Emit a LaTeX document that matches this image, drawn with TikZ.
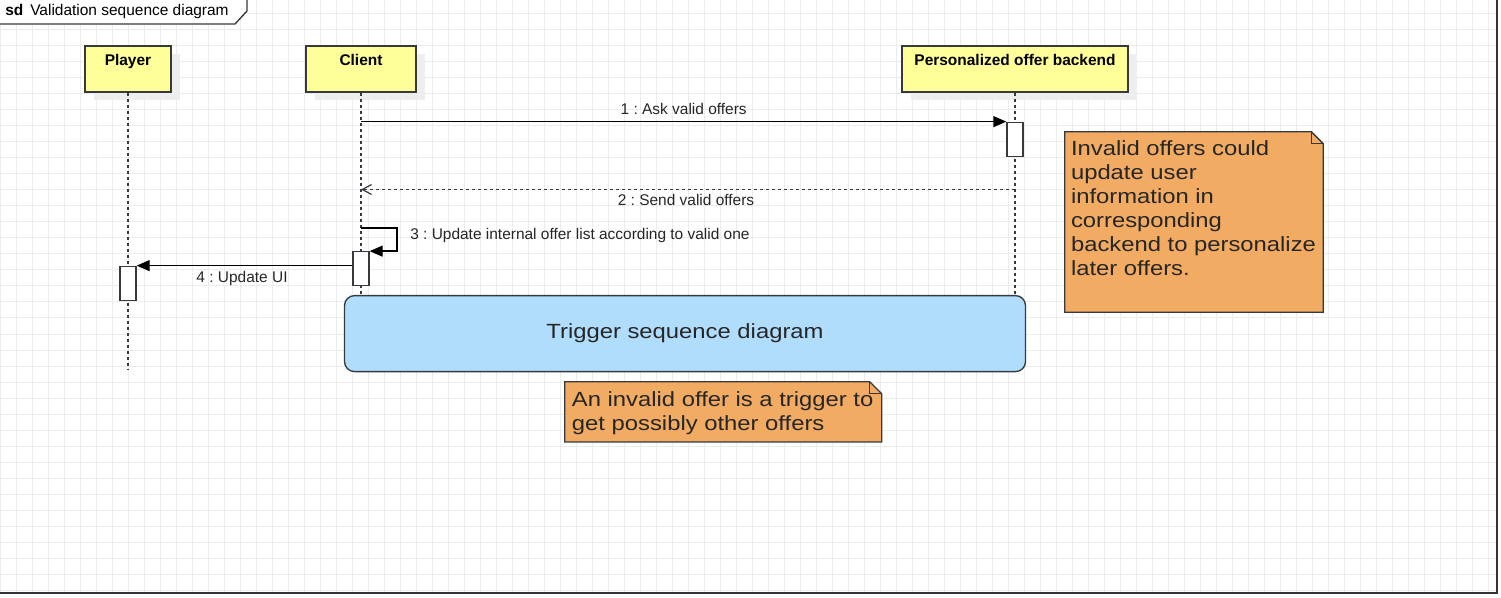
\documentclass[tikz,border=0pt]{standalone}
\usepackage{fontspec}
\setmainfont{Liberation Sans}
\newfontfamily\notefont[FakeStretch=1.16]{Liberation Sans}
\usepackage{xcolor}
\usepackage{tikz}
\usetikzlibrary{arrows.meta,shadows}
\definecolor{lifeyellow}{RGB}{255,255,153}
\definecolor{lineedge}{RGB}{54,57,61}
\definecolor{shadowgray}{RGB}{238,238,238}
\definecolor{gridgray}{RGB}{236,236,236}
\definecolor{noteorange}{RGB}{242,171,99}
\definecolor{triggerblue}{RGB}{177,221,252}
\definecolor{textgray}{RGB}{38,38,38}
\newdimen\pxu \pxu=0.75pt
\newcommand{\msgfont}{\fontsize{11.6pt}{13.9pt}\selectfont}
\newcommand{\bigfont}{\notefont\fontsize{15.4pt}{18pt}\selectfont}
\frenchspacing

\begin{document}
\begin{tikzpicture}[x=0.75pt,y=-0.75pt,
  gridline/.style={draw=gridgray,line width=0.75pt},
  frameline/.style={draw=lineedge!90!black,line width=1.5pt},
  lifebox/.style={draw=lineedge,fill=lifeyellow,line width=1pt,minimum height=46\pxu,inner sep=0pt,
    drop shadow={shadow xshift=8.5\pxu,shadow yshift=-8.5\pxu,fill=shadowgray,opacity=1}},
  lifetitle/.style={anchor=base,yshift=-20\pxu,inner sep=0pt,font=\msgfont\bfseries},
  lifeline/.style={draw=lineedge,line width=0.9pt,dash pattern=on 2.25pt off 2.25pt},
  actbox/.style={draw=lineedge,fill=white,line width=1pt,minimum width=16\pxu,minimum height=34\pxu,inner sep=0pt},
  msg/.style={draw=black,line width=1pt,-{Triangle[length=9.75pt,width=8.25pt]}},
  reply/.style={draw=lineedge,line width=0.9pt,dash pattern=on 2.25pt off 2.25pt,
    -{Straight Barb[length=7pt,width=7.5pt,line width=0.9pt]}},
  msglabel/.style={anchor=base,inner sep=0pt,font=\msgfont,text=textgray},
  trigger/.style={draw=lineedge,fill=triggerblue,line width=1pt,rounded corners=10\pxu,
    minimum width=681\pxu,minimum height=76\pxu,font=\bigfont,text=textgray},
  notearea/.style={inner sep=0pt},
  noteshape/.style={draw=lineedge,fill=noteorange,line width=1pt},
  notetext/.style={inner sep=0pt,align=left,font=\bigfont,text=textgray}]
\useasboundingbox (0,0) rectangle (1501,598);
% Background grid
\foreach \gx in {0,16,...,1488} \draw[gridline] (\gx,0) -- (\gx,593);
\foreach \gy in {14,30,...,590} \draw[gridline] (0,\gy) -- (1497,\gy);
% Frame and its label
\draw[frameline] (-5,-5) rectangle (1497,592.5);
\filldraw[draw=lineedge,fill=white,line width=1pt] (-5,24) -- (235,24) -- (247,11) -- (247,-5) -- (-5,-5) -- cycle;
\node[msglabel,anchor=base west,text=black] (sdlabel) at (5,16) {\textbf{sd}\hspace{7\pxu}Validation sequence diagram};
% Lifeline heads
\node[lifebox,minimum width=86\pxu,label={[lifetitle]north:Player}] (player) at (128,69) {};
\node[lifebox,minimum width=110\pxu,label={[lifetitle]north:Client}] (client) at (361,69) {};
\node[lifebox,minimum width=226\pxu,label={[lifetitle]north:Personalized offer backend}] (backend) at (1015,69) {};
% Trigger block
\node[trigger] (trigger) at (685,333.6) {Trigger sequence diagram};
% Lifelines
\coordinate (playerend) at (128,370);
\draw[lifeline] (player.south) -- (playerend);
\draw[lifeline] (client.south) -- (client.south |- trigger.north);
\draw[lifeline] (backend.south) -- (backend.south |- trigger.north);
% Activations
\node[actbox] (beact) at (1015,139.3) {};
\node[actbox] (cact) at (361,268.8) {};
\node[actbox] (pact) at (128,283.3) {};
% Messages
\coordinate (m1s) at (client.south |- beact.north);
\draw[msg] (m1s) -- (beact.north west)
  node[msglabel,midway,yshift=7.5\pxu] {1 : Ask valid offers};
\coordinate (m2s) at (1015,189.5);
\coordinate (m2e) at (361,189.5);
\draw[reply] (m2s) -- (m2e)
  node[msglabel,midway,xshift=-2\pxu,yshift=-16.5\pxu] {2 : Send valid offers};
\coordinate (m3s) at (361,228);
\draw[msg] (m3s) -- ++(36,0) |- (cact.north east);
\node[msglabel,anchor=base west] (m3label) at (410,240) {3 : Update internal offer list according to valid one};
\draw[msg] (cact.west |- pact.north) -- (pact.north east)
  node[msglabel,midway,xshift=-2.5\pxu,yshift=-16.5\pxu] {4 : Update UI};
% Notes
\node[notearea,minimum width=258\pxu,minimum height=180\pxu] (note1) at (1194,222) {};
\filldraw[noteshape] (note1.north west) -- ([xshift=-12\pxu]note1.north east) -- ([yshift=-12\pxu]note1.north east)
  -- (note1.south east) -- (note1.south west) -- cycle;
\draw[noteshape,fill=none] ([xshift=-12\pxu]note1.north east) -- ++(0,12) -- ++(12,0);
\node[notetext,anchor=north west] (note1text) at ([xshift=6\pxu,yshift=-8.5\pxu]note1.north west)
  {Invalid offers could\\update user\\information in\\corresponding\\backend to personalize\\later offers.};
\node[notearea,minimum width=316.5\pxu,minimum height=59.7\pxu] (note2) at (723.2,411.8) {};
\filldraw[noteshape] (note2.north west) -- ([xshift=-12\pxu]note2.north east) -- ([yshift=-12\pxu]note2.north east)
  -- (note2.south east) -- (note2.south west) -- cycle;
\draw[noteshape,fill=none] ([xshift=-12\pxu]note2.north east) -- ++(0,12) -- ++(12,0);
\node[notetext,anchor=north west] (note2text) at ([xshift=7\pxu,yshift=-9.5\pxu]note2.north west)
  {An invalid offer is a trigger to\\get possibly other offers};
\end{tikzpicture}
\end{document}
